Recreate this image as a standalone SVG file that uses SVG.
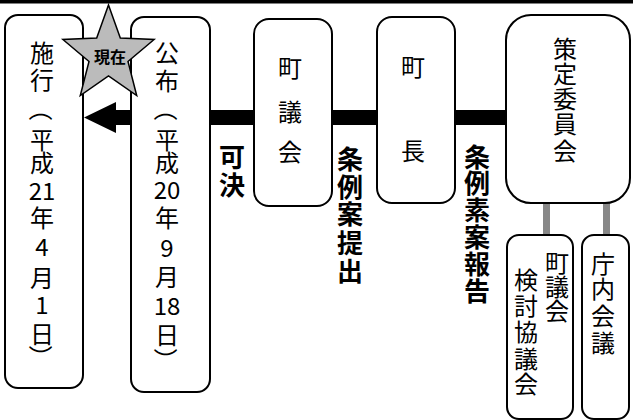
<svg xmlns="http://www.w3.org/2000/svg" width="633" height="420" viewBox="0 0 633 420">
<style>
.box{fill:#fff;stroke:#000;stroke-width:2}
.t{font-family:"Noto Sans CJK JP","Liberation Sans",sans-serif;font-size:24px;text-anchor:middle;dominant-baseline:central;fill:#000}
.b{font-weight:bold;font-size:26px}
.s{font-size:16px}
.gray{stroke:#888;stroke-width:7}
</style>
<rect x="0" y="0" width="633" height="3.5" fill="#000"/>
<g id="connectors">
  <rect x="116" y="110" width="390" height="15" fill="#000"/>
  <polygon points="84,117.5 116,102 116,133" fill="#000"/>
  <line class="gray" x1="546.5" y1="203" x2="546.5" y2="236"/>
  <line class="gray" x1="606.5" y1="203" x2="606.5" y2="236"/>
</g>
<g id="node-shikou">
  <rect class="box" x="5" y="15" width="78" height="373" rx="13"/>
  <text class="t" x="42" y="51">施</text>
  <text class="t" x="42" y="78">行</text>
  <text class="t" x="42" y="109" transform="rotate(90 42 109)">（</text>
  <text class="t" x="42" y="138">平</text>
  <text class="t" x="42" y="161">成</text>
  <text class="t" x="42" y="189">21</text>
  <text class="t" x="42" y="216">年</text>
  <text class="t" x="42" y="245">4</text>
  <text class="t" x="42" y="276">月</text>
  <text class="t" x="42" y="303">1</text>
  <text class="t" x="42" y="332">日</text>
  <text class="t" x="42" y="357" transform="rotate(90 42 357)">）</text>
</g>
<g id="node-koufu">
  <rect class="box" x="131" y="17" width="79" height="375" rx="13"/>
  <text class="t" x="167" y="51">公</text>
  <text class="t" x="167" y="79">布</text>
  <text class="t" x="167" y="109" transform="rotate(90 167 109)">（</text>
  <text class="t" x="167" y="138">平</text>
  <text class="t" x="167" y="161">成</text>
  <text class="t" x="167" y="188">20</text>
  <text class="t" x="167" y="216">年</text>
  <text class="t" x="167" y="246">9</text>
  <text class="t" x="167" y="275">月</text>
  <text class="t" x="167" y="304">18</text>
  <text class="t" x="167" y="333">日</text>
  <text class="t" x="167" y="360" transform="rotate(90 167 360)">）</text>
</g>
<g id="node-chougikai">
  <rect class="box" x="254" y="19" width="78" height="187" rx="15"/>
  <text class="t" x="290" y="66">町</text>
  <text class="t" x="290" y="110">議</text>
  <text class="t" x="290" y="150">会</text>
</g>
<g id="node-chouchou">
  <rect class="box" x="377" y="17" width="78" height="186" rx="15"/>
  <text class="t" x="413" y="65">町</text>
  <text class="t" x="413" y="149">長</text>
</g>
<g id="node-sakutei">
  <rect class="box" x="506" y="15" width="124" height="188" rx="25"/>
  <text class="t" x="565" y="47">策</text>
  <text class="t" x="565" y="72">定</text>
  <text class="t" x="565" y="97">委</text>
  <text class="t" x="565" y="122">員</text>
  <text class="t" x="565" y="149">会</text>
</g>
<g id="node-kentou">
  <rect class="box" x="507" y="235" width="66" height="184" rx="12"/>
  <text class="t" x="557" y="261">町</text>
  <text class="t" x="557" y="285">議</text>
  <text class="t" x="557" y="309">会</text>
  <text class="t" x="526" y="278">検</text>
  <text class="t" x="526" y="304">討</text>
  <text class="t" x="526" y="330">協</text>
  <text class="t" x="526" y="357">議</text>
  <text class="t" x="526" y="382">会</text>
</g>
<g id="node-chounai">
  <rect class="box" x="582" y="235" width="47" height="184" rx="12"/>
  <text class="t" x="603" y="262">庁</text>
  <text class="t" x="603" y="287">内</text>
  <text class="t" x="603" y="314">会</text>
  <text class="t" x="603" y="341">議</text>
</g>
<g id="labels">
  <text class="t b" x="232" y="155">可</text>
  <text class="t b" x="232" y="183">決</text>
  <text class="t b" x="350" y="157">条</text>
  <text class="t b" x="350" y="185">例</text>
  <text class="t b" x="350" y="212">案</text>
  <text class="t b" x="350" y="241">提</text>
  <text class="t b" x="350" y="269">出</text>
  <text class="t b" x="477" y="155">条</text>
  <text class="t b" x="477" y="181">例</text>
  <text class="t b" x="477" y="208">素</text>
  <text class="t b" x="477" y="235">案</text>
  <text class="t b" x="477" y="262">報</text>
  <text class="t b" x="477" y="289">告</text>
</g>
<g id="star">
  <polygon points="108.5,5 120.3,38 154.1,39.5 128,61.5 136.7,95.5 108.5,76 80.3,95.5 89,61.5 62.9,39.5 96.7,38" fill="#bbb" stroke="#000" stroke-width="1.5"/>
  <text class="t b s" x="110" y="56">現在</text>
</g>
</svg>
